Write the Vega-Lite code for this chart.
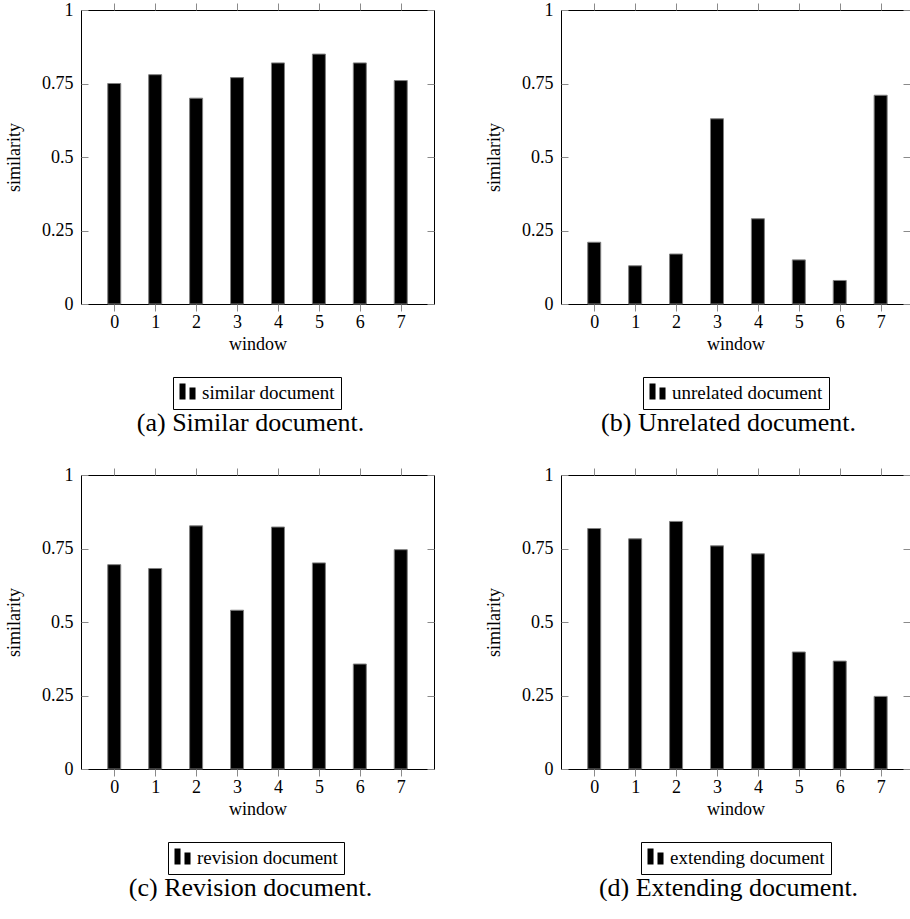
{
  "$schema": "https://vega.github.io/schema/vega-lite/v6.json",
  "background": "white",
  "padding": {"left": 5, "top": 0, "right": 0, "bottom": 0},
  "datasets": {
    "a": [
      {"window": 0, "similarity": 0.75, "series": "similar document"},
      {"window": 1, "similarity": 0.78, "series": "similar document"},
      {"window": 2, "similarity": 0.70, "series": "similar document"},
      {"window": 3, "similarity": 0.77, "series": "similar document"},
      {"window": 4, "similarity": 0.82, "series": "similar document"},
      {"window": 5, "similarity": 0.85, "series": "similar document"},
      {"window": 6, "similarity": 0.82, "series": "similar document"},
      {"window": 7, "similarity": 0.76, "series": "similar document"}
    ],
    "b": [
      {"window": 0, "similarity": 0.21, "series": "unrelated document"},
      {"window": 1, "similarity": 0.13, "series": "unrelated document"},
      {"window": 2, "similarity": 0.17, "series": "unrelated document"},
      {"window": 3, "similarity": 0.63, "series": "unrelated document"},
      {"window": 4, "similarity": 0.29, "series": "unrelated document"},
      {"window": 5, "similarity": 0.15, "series": "unrelated document"},
      {"window": 6, "similarity": 0.08, "series": "unrelated document"},
      {"window": 7, "similarity": 0.71, "series": "unrelated document"}
    ],
    "c": [
      {"window": 0, "similarity": 0.695, "series": "revision document"},
      {"window": 1, "similarity": 0.682, "series": "revision document"},
      {"window": 2, "similarity": 0.827, "series": "revision document"},
      {"window": 3, "similarity": 0.540, "series": "revision document"},
      {"window": 4, "similarity": 0.823, "series": "revision document"},
      {"window": 5, "similarity": 0.701, "series": "revision document"},
      {"window": 6, "similarity": 0.357, "series": "revision document"},
      {"window": 7, "similarity": 0.746, "series": "revision document"}
    ],
    "d": [
      {"window": 0, "similarity": 0.818, "series": "extending document"},
      {"window": 1, "similarity": 0.783, "series": "extending document"},
      {"window": 2, "similarity": 0.842, "series": "extending document"},
      {"window": 3, "similarity": 0.759, "series": "extending document"},
      {"window": 4, "similarity": 0.732, "series": "extending document"},
      {"window": 5, "similarity": 0.398, "series": "extending document"},
      {"window": 6, "similarity": 0.367, "series": "extending document"},
      {"window": 7, "similarity": 0.247, "series": "extending document"}
    ]
  },
  "columns": 2,
  "spacing": {"row": 171, "column": 127},
  "bounds": "flush",
  "resolve": {"scale": {"color": "independent"}, "legend": {"color": "independent"}},
  "concat": [
    {
      "width": 353, "height": 294,
      "data": {"name": "a"},
      "title": {"text": "(a) Similar document.", "orient": "bottom", "offset": 0, "dx": -7},
      "resolve": {"axis": {"x": "independent", "y": "independent"}},
      "layer": [
        {
          "mark": {"type": "bar", "orient": "vertical", "size": 13, "stroke": "#7f7f7f", "strokeWidth": 1},
          "encoding": {
            "x": {"field": "window", "type": "quantitative", "scale": {"domain": [-0.69, 7.69], "nice": false, "zero": false},
                  "axis": {"values": [0,1,2,3,4,5,6,7], "tickSize": 7, "labelPadding": 2, "title": "window", "titlePadding": 4, "labelFlush": false, "labelOverlap": false}},
            "y": {"field": "similarity", "type": "quantitative", "stack": null, "scale": {"domain": [0, 1], "nice": false},
                  "axis": {"values": [0, 0.25, 0.5, 0.75, 1], "tickSize": -7, "labelPadding": 15, "labelExpr": "'' + datum.value", "title": "similarity", "titlePadding": 18, "labelFlush": false, "labelOverlap": false}},
            "color": {"field": "series", "type": "nominal", "scale": {"range": ["black"]},
                      "legend": {"orient": "none", "legendX": 92, "legendY": 367}}
          }
        },
        {
          "mark": {"type": "bar", "orient": "vertical", "size": 13, "opacity": 0},
          "encoding": {
            "x": {"field": "window", "type": "quantitative", "axis": {"orient": "top", "values": [0,1,2,3,4,5,6,7], "tickSize": 7, "labels": false, "title": null}},
            "y": {"field": "similarity", "type": "quantitative", "stack": null, "axis": {"orient": "right", "values": [0, 0.25, 0.5, 0.75, 1], "tickSize": -7, "labels": false, "title": null}}
          }
        }
      ]
    },
    {
      "width": 349, "height": 294,
      "data": {"name": "b"},
      "title": {"text": "(b) Unrelated document.", "orient": "bottom", "offset": 0, "dx": -7},
      "resolve": {"axis": {"x": "independent", "y": "independent"}},
      "layer": [
        {
          "mark": {"type": "bar", "orient": "vertical", "size": 13, "stroke": "#7f7f7f", "strokeWidth": 1},
          "encoding": {
            "x": {"field": "window", "type": "quantitative", "scale": {"domain": [-0.69, 7.595], "nice": false, "zero": false},
                  "axis": {"values": [0,1,2,3,4,5,6,7], "tickSize": 7, "labelPadding": 2, "title": "window", "titlePadding": 4, "labelFlush": false, "labelOverlap": false}},
            "y": {"field": "similarity", "type": "quantitative", "stack": null, "scale": {"domain": [0, 1], "nice": false},
                  "axis": {"values": [0, 0.25, 0.5, 0.75, 1], "tickSize": -7, "labelPadding": 15, "labelExpr": "'' + datum.value", "title": "similarity", "titlePadding": 18, "labelFlush": false, "labelOverlap": false}},
            "color": {"field": "series", "type": "nominal", "scale": {"range": ["black"]},
                      "legend": {"orient": "none", "legendX": 82, "legendY": 367}}
          }
        },
        {
          "mark": {"type": "bar", "orient": "vertical", "size": 13, "opacity": 0},
          "encoding": {
            "x": {"field": "window", "type": "quantitative", "axis": {"orient": "top", "values": [0,1,2,3,4,5,6,7], "tickSize": 7, "labels": false, "title": null}},
            "y": {"field": "similarity", "type": "quantitative", "stack": null, "axis": {"orient": "right", "values": [0, 0.25, 0.5, 0.75, 1], "tickSize": -7, "labels": false, "title": null}}
          }
        }
      ]
    },
    {
      "width": 353, "height": 294,
      "data": {"name": "c"},
      "title": {"text": "(c) Revision document.", "orient": "bottom", "offset": 0, "dx": -7},
      "resolve": {"axis": {"x": "independent", "y": "independent"}},
      "layer": [
        {
          "mark": {"type": "bar", "orient": "vertical", "size": 13, "stroke": "#7f7f7f", "strokeWidth": 1},
          "encoding": {
            "x": {"field": "window", "type": "quantitative", "scale": {"domain": [-0.69, 7.69], "nice": false, "zero": false},
                  "axis": {"values": [0,1,2,3,4,5,6,7], "tickSize": 7, "labelPadding": 2, "title": "window", "titlePadding": 4, "labelFlush": false, "labelOverlap": false}},
            "y": {"field": "similarity", "type": "quantitative", "stack": null, "scale": {"domain": [0, 1], "nice": false},
                  "axis": {"values": [0, 0.25, 0.5, 0.75, 1], "tickSize": -7, "labelPadding": 15, "labelExpr": "'' + datum.value", "title": "similarity", "titlePadding": 18, "labelFlush": false, "labelOverlap": false}},
            "color": {"field": "series", "type": "nominal", "scale": {"range": ["black"]},
                      "legend": {"orient": "none", "legendX": 87, "legendY": 367}}
          }
        },
        {
          "mark": {"type": "bar", "orient": "vertical", "size": 13, "opacity": 0},
          "encoding": {
            "x": {"field": "window", "type": "quantitative", "axis": {"orient": "top", "values": [0,1,2,3,4,5,6,7], "tickSize": 7, "labels": false, "title": null}},
            "y": {"field": "similarity", "type": "quantitative", "stack": null, "axis": {"orient": "right", "values": [0, 0.25, 0.5, 0.75, 1], "tickSize": -7, "labels": false, "title": null}}
          }
        }
      ]
    },
    {
      "width": 349, "height": 294,
      "data": {"name": "d"},
      "title": {"text": "(d) Extending document.", "orient": "bottom", "offset": 0, "dx": -7},
      "resolve": {"axis": {"x": "independent", "y": "independent"}},
      "layer": [
        {
          "mark": {"type": "bar", "orient": "vertical", "size": 13, "stroke": "#7f7f7f", "strokeWidth": 1},
          "encoding": {
            "x": {"field": "window", "type": "quantitative", "scale": {"domain": [-0.69, 7.595], "nice": false, "zero": false},
                  "axis": {"values": [0,1,2,3,4,5,6,7], "tickSize": 7, "labelPadding": 2, "title": "window", "titlePadding": 4, "labelFlush": false, "labelOverlap": false}},
            "y": {"field": "similarity", "type": "quantitative", "stack": null, "scale": {"domain": [0, 1], "nice": false},
                  "axis": {"values": [0, 0.25, 0.5, 0.75, 1], "tickSize": -7, "labelPadding": 15, "labelExpr": "'' + datum.value", "title": "similarity", "titlePadding": 18, "labelFlush": false, "labelOverlap": false}},
            "color": {"field": "series", "type": "nominal", "scale": {"range": ["black"]},
                      "legend": {"orient": "none", "legendX": 80, "legendY": 367}}
          }
        },
        {
          "mark": {"type": "bar", "orient": "vertical", "size": 13, "opacity": 0},
          "encoding": {
            "x": {"field": "window", "type": "quantitative", "axis": {"orient": "top", "values": [0,1,2,3,4,5,6,7], "tickSize": 7, "labels": false, "title": null}},
            "y": {"field": "similarity", "type": "quantitative", "stack": null, "axis": {"orient": "right", "values": [0, 0.25, 0.5, 0.75, 1], "tickSize": -7, "labels": false, "title": null}}
          }
        }
      ]
    }
  ],
  "config": {
    "view": {"stroke": "black", "strokeWidth": 1},
    "axis": {
      "domain": false, "grid": false, "tickColor": "#8a8a8a", "tickWidth": 1,
      "labelFont": "'Liberation Serif', 'DejaVu Serif', serif", "labelFontSize": 18, "labelColor": "black",
      "titleFont": "'Liberation Serif', 'DejaVu Serif', serif", "titleFontSize": 18, "titleFontWeight": "normal", "titleColor": "black"
    },
    "legend": {
      "title": null, "strokeColor": "black", "padding": 6,
      "symbolType": "M-1,-1H-0.33V0.78H-1Z M0.11,-0.55H0.78V0.78H0.11Z",
      "symbolSize": 324, "symbolStrokeWidth": 0, "symbolFillColor": "black",
      "labelFont": "'Liberation Serif', 'DejaVu Serif', serif", "labelFontSize": 19, "labelOffset": 4, "labelColor": "black", "labelLimit": 400
    },
    "title": {"font": "'Liberation Serif', 'DejaVu Serif', serif", "fontSize": 26, "fontWeight": "normal", "color": "black", "anchor": "middle"}
  }
}
